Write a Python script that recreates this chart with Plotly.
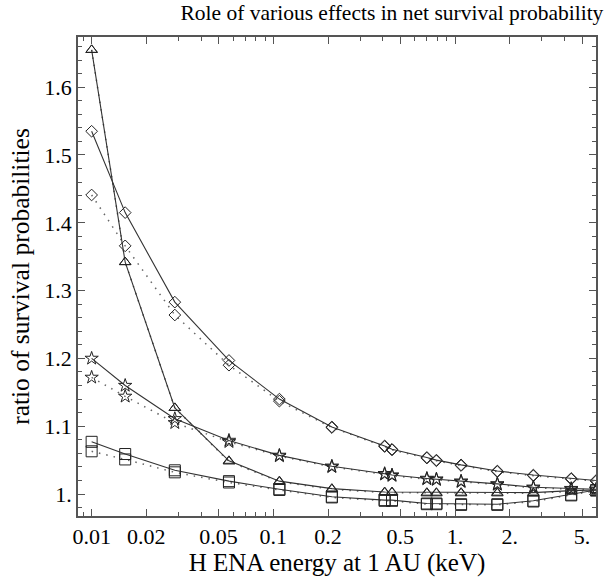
import plotly.graph_objects as go

energy = [0.01, 0.0153, 0.0287, 0.057, 0.108, 0.21, 0.41, 0.45, 0.70, 0.79, 1.08, 1.71, 2.70, 4.36, 5.98]

diamond_solid = [1.535, 1.415, 1.283, 1.197, 1.140, 1.099, 1.071, 1.066, 1.054, 1.050, 1.043, 1.034, 1.028, 1.023, 1.020]
diamond_dot = [1.441, 1.366, 1.264, 1.190, 1.137, 1.098, 1.070, 1.065, 1.053, 1.049, 1.042, 1.033, 1.027, 1.022, 1.019]
triangle_solid = [1.655, 1.342, 1.127, 1.049, 1.019, 1.008, 1.003, 1.003, 1.002, 1.002, 1.002, 1.002, 1.002, 1.005, 1.006]
triangle_dot = [1.655, 1.342, 1.127, 1.048, 1.018, 1.007, 1.002, 1.002, 1.001, 1.001, 1.001, 1.001, 1.001, 1.004, 1.005]
star_solid = [1.200, 1.160, 1.111, 1.079, 1.057, 1.041, 1.030, 1.028, 1.023, 1.022, 1.019, 1.015, 1.010, 1.008, 1.007]
star_dot = [1.172, 1.144, 1.105, 1.077, 1.056, 1.040, 1.029, 1.027, 1.022, 1.021, 1.018, 1.014, 1.009, 1.007, 1.006]
square_solid = [1.077, 1.059, 1.035, 1.019, 1.007, 0.996, 0.991, 0.991, 0.986, 0.986, 0.985, 0.985, 0.990, 0.999, 1.006]
square_dot = [1.063, 1.051, 1.032, 1.017, 1.006, 0.995, 0.990, 0.990, 0.985, 0.985, 0.984, 0.984, 0.989, 0.998, 1.005]

x_tickvals = [0.01, 0.02, 0.05, 0.1, 0.2, 0.5, 1, 2, 5]
x_ticktext = ["0.01", "0.02", "0.05", "0.1", "0.2", "0.5", "1.", "2.", "5."]
y_tickvals = [1.0, 1.1, 1.2, 1.3, 1.4, 1.5, 1.6]
y_ticktext = ["1.", "1.1", "1.2", "1.3", "1.4", "1.5", "1.6"]

series = [
    (diamond_dot, "diamond-open", 9, "dot"),
    (star_dot, "star-open", 10, "dot"),
    (square_dot, "square-open", 11, "dot"),
    (triangle_dot, "triangle-up-open", 10, "dot"),
    (diamond_solid, "diamond-open", 9, "solid"),
    (star_solid, "star-open", 10, "solid"),
    (square_solid, "square-open", 11, "solid"),
    (triangle_solid, "triangle-up-open", 10, "solid"),
]

fig = go.Figure()
for vals, sym, sz, dash in series:
    solid = dash == "solid"
    fig.add_trace(go.Scatter(
        x=energy, y=vals, mode="lines+markers",
        line=dict(color="#333333" if solid else "#666666",
                  width=1.1 if solid else 1.5,
                  dash="solid" if solid else "1.5px,6px"),
        marker=dict(symbol=sym, size=sz, color="#222222", line=dict(width=1, color="#222222")),
        showlegend=False,
    ))

font = "Liberation Serif, Times New Roman, serif"
fig.update_layout(
    width=607, height=585,
    margin=dict(l=78, r=9, t=37, b=69),
    paper_bgcolor="white", plot_bgcolor="white",
    font=dict(family=font, size=22, color="black"),
    title=dict(text="Role of various effects in net survival probability",
               x=0.606, xanchor="center", xref="paper", y=0.978, yanchor="middle",
               font=dict(family=font, size=21.5, color="black")),
)
fig.update_xaxes(
    type="log", range=[-2.075, 0.776],
    tickvals=x_tickvals, ticktext=x_ticktext,
    ticks="inside", ticklen=7, tickcolor="#555555",
    showline=True, linecolor="#555555", linewidth=1.5, mirror="allticks",
    showgrid=False, zeroline=False,
    minor=dict(ticks="inside", ticklen=4, tickcolor="#555555", dtick="D1", showgrid=False),
    title=dict(text="H ENA energy at 1 AU (keV)", standoff=5, font=dict(size=25)),
    tickfont=dict(size=22),
)
fig.update_yaxes(
    range=[0.9676, 1.674],
    tickvals=y_tickvals, ticktext=y_ticktext,
    ticks="inside", ticklen=7, tickcolor="#555555",
    showline=True, linecolor="#555555", linewidth=1.5, mirror="allticks",
    showgrid=False, zeroline=False,
    minor=dict(ticks="inside", ticklen=4, tickcolor="#555555", dtick=0.02, showgrid=False),
    title=dict(text="ratio of survival probabilities", standoff=7, font=dict(size=25.5)),
    tickfont=dict(size=22),
)

fig.write_html("out.html")
